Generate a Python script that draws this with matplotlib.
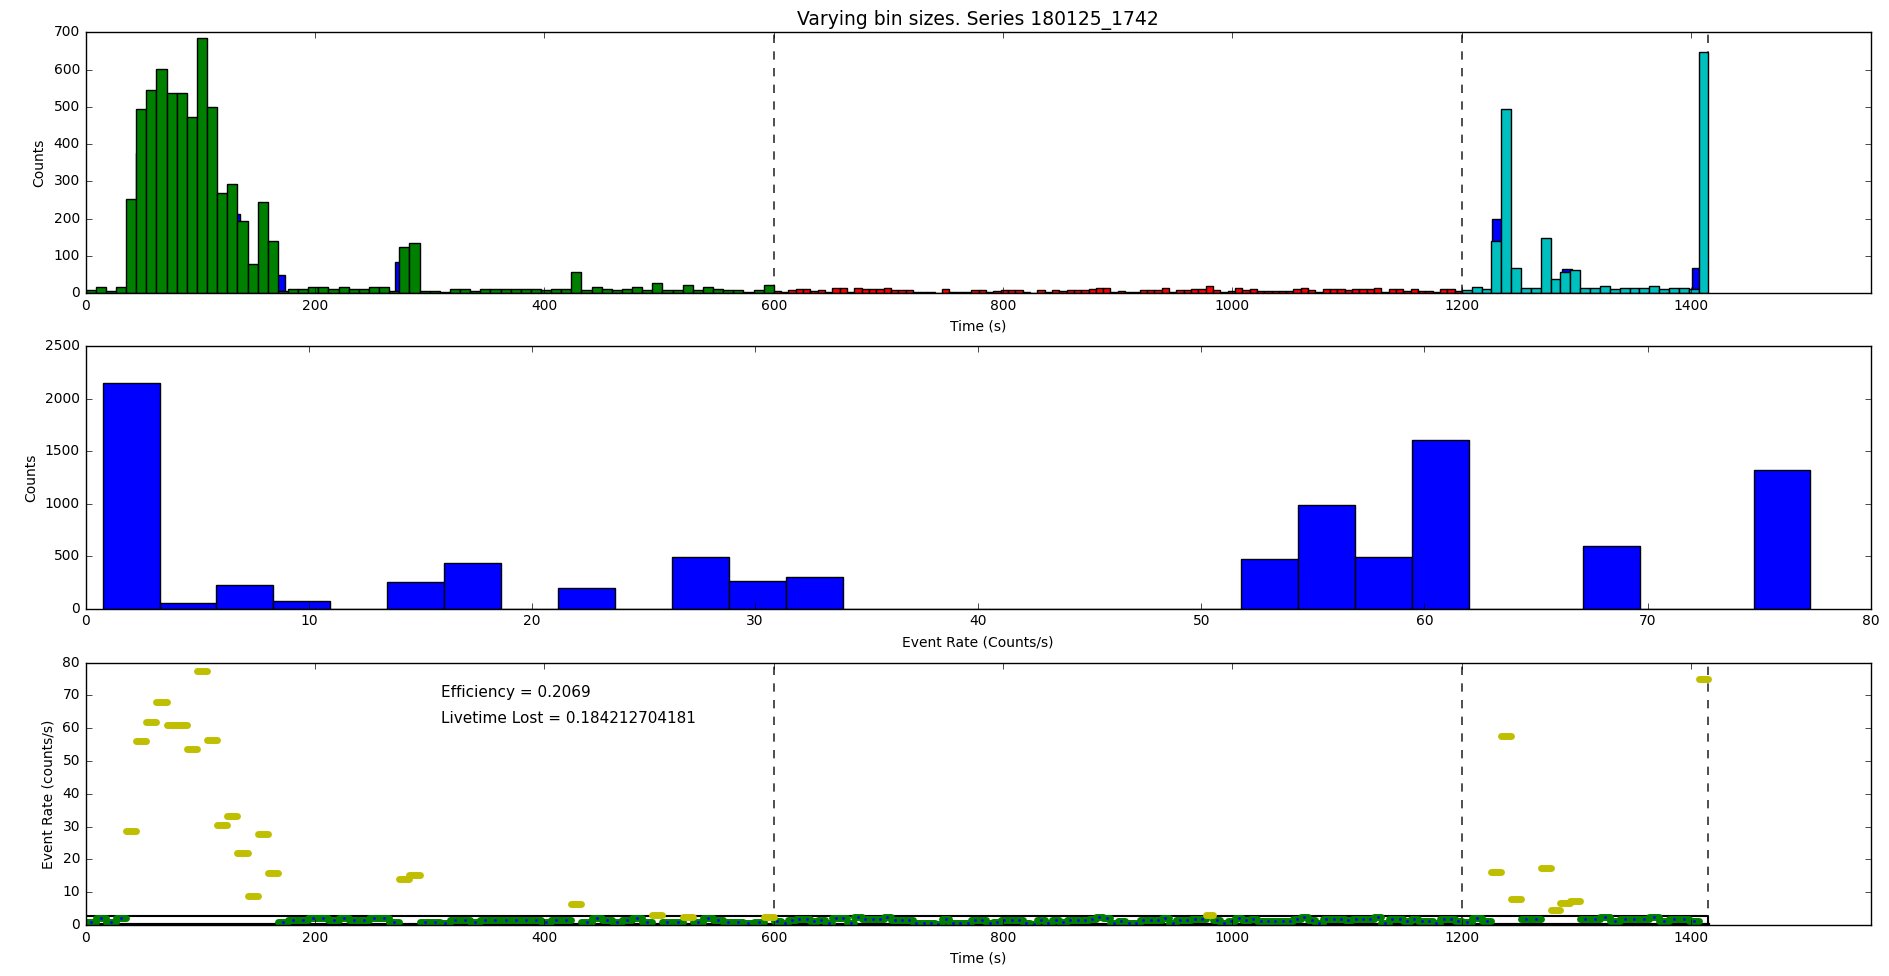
import numpy as np
import matplotlib
matplotlib.use("Agg")
import matplotlib.pyplot as plt

plt.style.use('classic')
plt.rcParams['font.family'] = ['DejaVu Sans']
plt.rcParams['font.size'] = 10
plt.rcParams['figure.facecolor'] = 'white'
plt.rcParams['savefig.facecolor'] = 'white'

series = "180125_1742"
t_end = 1415.0
cuts = [600.0, 1200.0]
efficiency = "0.2069"
livetime_lost = "0.184212704181"

# counts per time bin, one list for each segment
green_counts = [9, 18, 7, 18, 254, 494, 546, 601, 538, 538, 474, 684, 499, 268, 293, 195, 78, 246, 140, 7,
                12, 12, 18, 18, 12, 18, 12, 12, 18, 18, 7, 125, 134, 7, 7, 4, 12, 12, 7, 12,
                12, 12, 12, 12, 12, 9, 12, 12, 56, 9, 18, 12, 9, 12, 18, 9, 27, 9, 9, 22,
                9, 18, 12, 9, 9, 4, 9, 22]
red_counts = [7, 4, 9, 11, 11, 7, 9, 4, 13, 13, 4, 15, 11, 11, 11,
              15, 9, 9, 9, 4, 4, 4, 2, 11, 4, 4, 4, 9, 9, 4, 6, 9, 9, 9, 4, 2, 9, 4, 9, 6, 9, 9, 9,
              11, 15, 13, 4, 7, 4, 4, 9, 9, 9, 13, 4, 9, 9, 11, 11, 20, 9, 4, 7, 13, 9, 11, 7,
              7, 7, 7, 7, 11, 15, 9, 4, 11, 11, 11, 9, 11, 11, 11, 15, 4, 11, 11, 7, 11, 7, 7, 4, 11, 11, 7]
cyan_counts = [9, 17, 11, 140, 495, 69, 15, 15, 149, 38, 58, 63, 15, 15, 20, 11, 15, 15, 15, 20,
               11, 15, 15, 11, 646]

# the fixed-bin histogram underneath (only where it shows)
blue_left = [43.5, 126.0, 165.3, 269.7, 1226.7, 1287.6, 1400.7]
blue_counts = [375, 212, 48, 84, 200, 66, 68]
blue_width = 8.7

# event rate histogram
rate_min, rate_max = 0.76, 77.3
rate_hist = [2150, 57, 230, 70, 0, 252, 436, 0, 195, 0, 493, 264, 298, 0, 0, 0, 0, 0, 0, 0,
             470, 986, 493, 1605, 0, 0, 596, 0, 0, 1320]

threshold = 2.7
high_cut = 2.4

green_edges = np.linspace(0, cuts[0], len(green_counts) + 1)
red_edges = np.linspace(cuts[0], cuts[1], len(red_counts) + 1)
cyan_edges = np.linspace(cuts[1], t_end, len(cyan_counts) + 1)

fig = plt.figure(figsize=(18.9, 9.76), dpi=100)
ax1 = fig.add_axes([0.0453, 0.6995, 0.9445, 0.2674])
ax2 = fig.add_axes([0.0453, 0.3763, 0.9445, 0.2692])
ax3 = fig.add_axes([0.0453, 0.0523, 0.9445, 0.2687])

# top: counts vs time
for c in cuts + [t_end]:
    ax1.axvline(c, color='0.25', ls='--', lw=1.3, zorder=0.5)
ax1.bar(blue_left, blue_counts, width=blue_width, align='edge', color='b', edgecolor='k', zorder=1)
for edges, counts, col in [(green_edges, green_counts, 'g'), (red_edges, red_counts, 'r'),
                           (cyan_edges, cyan_counts, 'c')]:
    ax1.bar(edges[:-1], counts, width=np.diff(edges), align='edge', color=col, edgecolor='k', zorder=2)
ax1.set_xlim(0, 1.1 * t_end)
ax1.set_ylim(0, 700)
ax1.set_xlabel('Time (s)')
ax1.set_ylabel('Counts')
ax1.set_title('Varying bin sizes. Series ' + series, fontsize=13.5)

# middle: histogram of rates
rate_edges = np.linspace(rate_min, rate_max, len(rate_hist) + 1)
ax2.hist(rate_edges[:-1], bins=rate_edges, weights=rate_hist, color='b', edgecolor='k')
ax2.set_xlim(0, 80)
ax2.set_ylim(0, 2500)
ax2.set_xlabel('Event Rate (Counts/s)')
ax2.set_ylabel('Counts')

# bottom: rate vs time
all_edges = [green_edges, red_edges, cyan_edges]
all_counts = [green_counts, red_counts, cyan_counts]
for c in cuts + [t_end]:
    ax3.axvline(c, color='0.25', ls='--', lw=1.3, zorder=0.5)
ax3.plot([0, t_end, t_end], [threshold, threshold, 0], color='k', lw=1.5, zorder=1)
ax3.plot([0, t_end], [0.05, 0.05], color='k', lw=3, zorder=1)
for edges, counts in zip(all_edges, all_counts):
    w = np.diff(edges)
    rate = np.array(counts) / w
    mid = edges[:-1] + w / 2
    hi = rate > high_cut
    eb = ax3.errorbar(mid[hi], rate[hi], xerr=w[hi] / 2, fmt='none', ecolor='y', elinewidth=5,
                      capsize=0, zorder=3)
    for lc in eb[2]:
        lc.set_capstyle('round')
    eb = ax3.errorbar(mid[~hi], rate[~hi], xerr=w[~hi] / 2, fmt='none', ecolor='g', elinewidth=5,
                      capsize=0, zorder=2)
    for lc in eb[2]:
        lc.set_capstyle('round')
    ax3.plot(mid[~hi], rate[~hi], '.', color='b', ms=3, mec='b', zorder=2.5)
ax3.text(310, 71, 'Efficiency = ' + efficiency, va='center', fontsize=11)
ax3.text(310, 63, 'Livetime Lost = ' + livetime_lost, va='center', fontsize=11)
ax3.set_xlim(0, 1.1 * t_end)
ax3.set_ylim(0, 80)
ax3.set_xlabel('Time (s)')
ax3.set_ylabel('Event Rate (counts/s)')

fig.savefig('out.png', dpi=100)
